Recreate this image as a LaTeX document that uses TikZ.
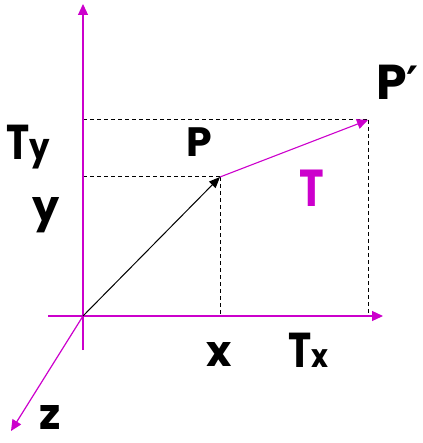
\documentclass[tikz,border=0pt]{standalone}
\usepackage{fontspec}
\usepackage{graphicx}
\setmainfont{Poppins}[UprightFont=* Bold]
\newfontfamily\primefont{DejaVu Sans}[UprightFont=* Bold]
\usetikzlibrary{arrows.meta}
\definecolor{mag}{RGB}{204,0,204}
\newcommand\fs[1]{\fontsize{#1}{#1}\selectfont}
\newcommand\narrowT{\scalebox{0.8}[1]{T}}
\tikzset{
  axis/.style={draw=mag, line width=1.2pt},
  axarrow/.style={axis, -{Triangle[length=11pt,width=10pt]}},
  guide/.style={draw=black, dashed, dash pattern=on 4pt off 3pt, line width=1pt},
  lbl/.style={inner sep=0pt, anchor=base west, text depth=0pt, font=\fs{43}},
}
\begin{document}
\begin{tikzpicture}[x=1pt,y=-1pt]
\useasboundingbox (0,0) rectangle (422,443);
\coordinate (O) at (83,316);
\coordinate (P) at (220,177);
\coordinate (Pp) at (368,120);
\coordinate (ybot) at (83,350);
\coordinate (ytop) at (83,4);
\coordinate (xleft) at (48,316);
\coordinate (xright) at (383,316);
\coordinate (zend) at (11,431);
\coordinate (yP) at (83,177);
\coordinate (yPp) at (83,120);
\coordinate (xP) at (220,316);
\coordinate (xPp) at (368,316);
% guides
\draw[guide] (yPp) -- (Pp);
\draw[guide] (yP) -- (P);
\draw[guide] (P) -- (xP);
\draw[guide] (Pp) -- (xPp);
% axes
\draw[axarrow] (ybot) -- (ytop);
\draw[axarrow] (xleft) -- (xright);
\draw[axarrow] (O) -- (zend);
% vectors
\draw[line width=1pt, -{Triangle[length=11pt,width=9pt]}] (O) -- (P);
\draw[axarrow, line width=1.1pt] (P) -- (Pp);
% labels
\node[lbl, font=\fs{49}] (Ty) at (6,160) {\narrowT{\fs{36}\scalebox{0.9}[1]{y}}};
\node[lbl] (ylab) at (32,221) {y};
\node[lbl, font=\fs{41}] (Plab) at (186,157) {P};
\node[lbl, font=\fs{49}] (Pplab) at (376,100) {P{\primefont\fs{46}′}};
\node[lbl, font=\fs{52}, text=mag] (Tlab) at (299,207) {\narrowT};
\node[lbl] (xlab) at (206,366) {x};
\node[lbl, font=\fs{49}] (Tx) at (288,367) {\narrowT{\fs{32}\scalebox{0.9}[1]{x}}};
\node[lbl] (zlab) at (39,429) {z};
\end{tikzpicture}
\end{document}
